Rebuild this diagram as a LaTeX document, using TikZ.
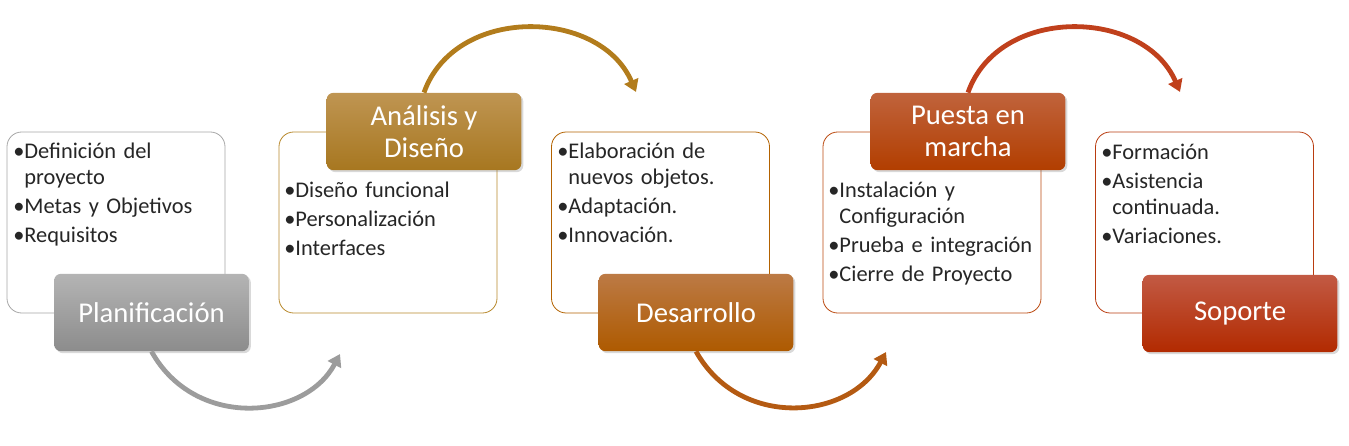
\documentclass[tikz,border=0pt]{standalone}
\usepackage{fontspec}
\setmainfont{Carlito}
\usepackage{tikz}
\usetikzlibrary{arrows.meta,shadows}
\definecolor{ash}{HTML}{A6A6A6}
\definecolor{ashtop}{HTML}{B4B4B4}
\definecolor{ashbot}{HTML}{8C8C8C}
\definecolor{ashline}{HTML}{9C9C9C}
\definecolor{ochre}{HTML}{B8892C}
\definecolor{ochretop}{HTML}{BF9552}
\definecolor{ochrebot}{HTML}{A77720}
\definecolor{ochreline}{HTML}{B27C1C}
\definecolor{amber}{HTML}{B36200}
\definecolor{ambertop}{HTML}{BC7A45}
\definecolor{amberbot}{HTML}{AE5A00}
\definecolor{amberline}{HTML}{B45A12}
\definecolor{rust}{HTML}{BB4A10}
\definecolor{rusttop}{HTML}{C0633C}
\definecolor{rustbot}{HTML}{B23E00}
\definecolor{rustline}{HTML}{C0401C}
\definecolor{brick}{HTML}{B93C10}
\definecolor{bricktop}{HTML}{C25A44}
\definecolor{brickbot}{HTML}{B22A00}
\newcommand{\itm}[1]{\par\setbox0\hbox{•}\hangindent=\wd0\hangafter=1\noindent•#1}
\tikzset{
  stagebox/.style={
    rectangle, draw=#1, fill=white, semithick, rounded corners=11pt,
    minimum width=163.5pt, minimum height=135.75pt
  },
  stagebox/.default=ash,
  headbox/.style={
    rectangle, rounded corners=5pt, top color=#1top, bottom color=#1bot,
    minimum width=146pt, minimum height=58pt, text=white, align=center,
    font=\fontsize{21.5pt}{23.5pt}\selectfont,
    drop shadow={opacity=0.3, shadow xshift=1.5pt, shadow yshift=-1.5pt}
  },
  headbox/.default=ash,
  itemtext/.style={
    anchor=north west, inner sep=0pt, text width=160pt, align=left,
    text=black!85, font=\fontsize{16.8pt}{19.5pt}\selectfont\setlength{\parskip}{2.2pt}
  },
  looparrow/.style={
    -{Triangle[length=9pt,width=11pt]}, line width=3.6pt, color=#1
  },
  looparrow/.default=ashline,
}

\begin{document}
\begin{tikzpicture}[x=0.75pt,y=-0.75pt]
  \useasboundingbox (0,0) rectangle (1349,446);
  % end points of the loops
  \coordinate (e1) at (340,354);
  \coordinate (e2) at (636,92);
  \coordinate (e3) at (886,352);
  \coordinate (e4) at (1180,92);
  % white boxes
  \node[stagebox] (b1) at (116,222.5) {};
  \node[stagebox=ochre] (b2) at (388,222.5) {};
  \node[stagebox=amber] (b3) at (660.5,222.5) {};
  \node[stagebox=rust] (b4) at (932,222.5) {};
  \node[stagebox=brick] (b5) at (1204.5,222.5) {};
  % bullet lists
  \node[itemtext] (t1) at (13,129) {\itm{Definición del\newline proyecto}\itm{Metas y Objetivos}\itm{Requisitos}};
  \node[itemtext] (t2) at (284,168) {\itm{Diseño funcional}\itm{Personalización}\itm{Interfaces}};
  \node[itemtext] (t3) at (557,129) {\itm{Elaboración de\newline nuevos objetos.}\itm{Adaptación.}\itm{Innovación.}};
  \node[itemtext] (t4) at (828,168) {\itm{Instalación y\newline Configuración}\itm{Prueba e integración}\itm{Cierre de Proyecto}};
  \node[itemtext] (t5) at (1101,130) {\itm{Formación}\itm{Asistencia\newline continuada.}\itm{Variaciones.}};
  % coloured headers
  \node[headbox] (plan) at (151.5,312.5) {Planificación};
  \node[headbox=ochre] (ana) at (424,131.5) {Análisis y\\Diseño};
  \node[headbox=amber] (des) at (696,312.5) {Desarrollo};
  \node[headbox=rust] (pue) at (968,131.5) {Puesta en\\marcha};
  \node[headbox=brick] (sop) at (1240,313.5) {Soporte};
  % loops between stages
  \draw[looparrow] (plan.south) .. controls (195,430) and (305,420) .. (e1);
  \draw[looparrow=ochreline] (ana.north) .. controls (455,5) and (600,8) .. (e2);
  \draw[looparrow=amberline] (des.south) .. controls (740,430) and (850,420) .. (e3);
  \draw[looparrow=rustline] (pue.north) .. controls (999,5) and (1144,8) .. (e4);
\end{tikzpicture}
\end{document}
